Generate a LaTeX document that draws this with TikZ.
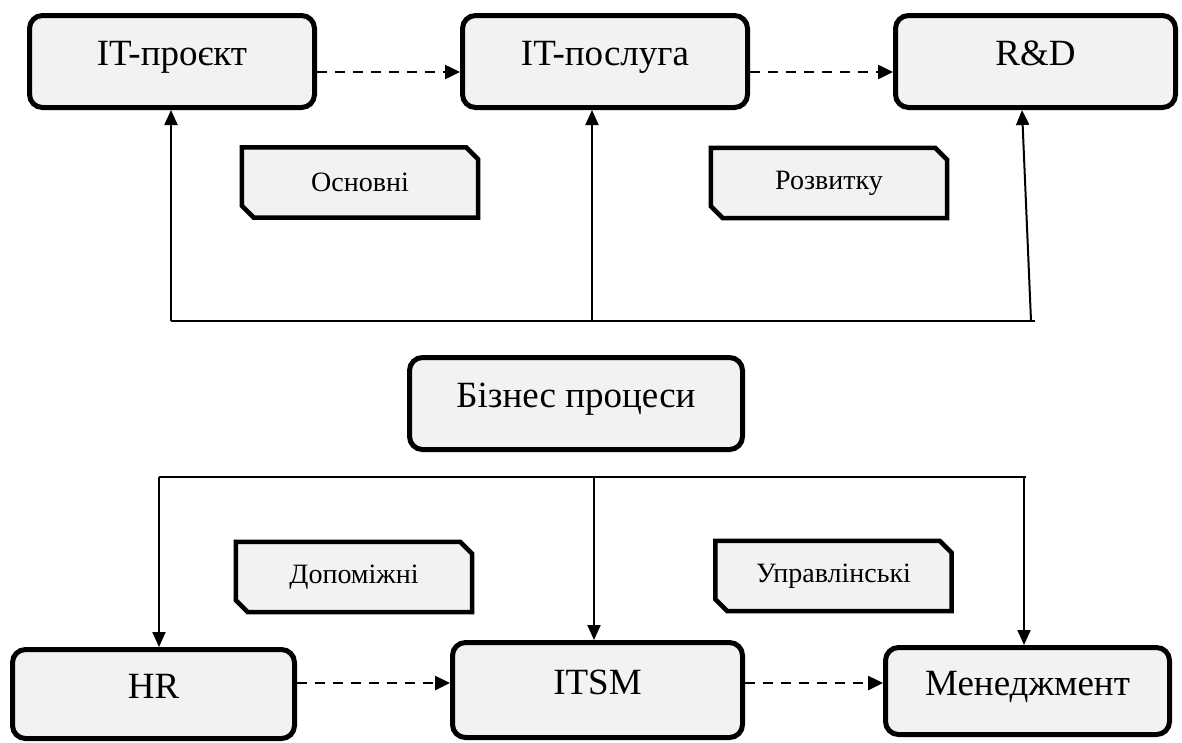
\documentclass[tikz,border=0pt]{standalone}
\usepackage{fontspec}
\setmainfont{Liberation Serif}
\usetikzlibrary{arrows.meta,backgrounds}
\definecolor{boxgray}{HTML}{F2F2F2}
\begin{document}
\begin{tikzpicture}[x=1pt,y=-1pt,
  proc/.style={draw=black, line width=5pt, rounded corners=13pt, fill=boxgray,
    inner sep=0pt, font=\fontsize{37}{44}\selectfont, text height=24pt, text depth=16pt},
  tagnode/.style={inner sep=0pt, font=\fontsize{28}{34}\selectfont,
    minimum width=236pt, minimum height=70pt},
  tagline/.style={draw=black, line width=4.5pt, fill=boxgray, line join=miter},
  bus/.style={line width=2pt},
  feed/.style={line width=2pt, -{Triangle[length=15pt,width=13pt]}},
  flow/.style={line width=2.5pt, dash pattern=on 10pt off 8pt, -{Triangle[length=15pt,width=14pt]}}]
\useasboundingbox (0,0) rectangle (1182,742);

% process boxes
\node[proc, minimum width=285pt, minimum height=92pt] (p1) at (172,61.5) {IT-проєкт};
\node[proc, minimum width=285pt, minimum height=92pt] (p2) at (605,61.5) {IT-послуга};
\node[proc, minimum width=280pt, minimum height=92pt] (p3) at (1035.5,61.5) {R\&D};
\node[proc, minimum width=333pt, minimum height=92pt] (bp) at (576,403.5) {Бізнес процеси};
\node[proc, minimum width=282pt, minimum height=89pt] (q1) at (153.5,694) {HR};
\node[proc, minimum width=290pt, minimum height=95pt] (q2) at (597.5,690) {ITSM};
\node[proc, minimum width=284pt, minimum height=87pt] (q3) at (1027.5,691) {Менеджмент};

% group tags
\node[tagnode] (t1) at (360,182.5) {Основні};
\node[tagnode] (t2) at (829,183) {Розвитку};
\node[tagnode] (t3) at (354,577) {Допоміжні};
\node[tagnode] (t4) at (833.5,576) {Управлінські};

\begin{scope}[on background layer]
  \foreach \t in {t1,t2,t3,t4}{
    \path[tagline] (\t.north west) -- ([xshift=-12pt]\t.north east)
      -- ([yshift=-12pt]\t.north east) -- (\t.south east)
      -- ([xshift=12pt]\t.south west) -- ([yshift=12pt]\t.south west) -- cycle;
  }
\end{scope}

% upper bus feeding the core processes
\coordinate (ua) at (171,321);
\coordinate (ub) at (592,321);
\coordinate (uc) at (1031,321);
\coordinate (ue) at (1035,321);
\coordinate (rtop) at (1022,0);
\draw[bus] (ua) -- (ue);
\draw[feed] (ua) -- (ua |- p1.south);
\draw[feed] (ub) -- (ub |- p2.south);
\draw[feed] (uc) -- (rtop |- p3.south);

% lower bus feeding the support processes
\coordinate (la) at (159,477);
\coordinate (lb) at (594,477);
\coordinate (lc) at (1024,477);
\coordinate (le) at (1026,477);
\draw[bus] (la) -- (le);
\draw[feed] (la) -- (la |- q1.north);
\draw[feed] (lb) -- (lb |- q2.north);
\draw[feed] (lc) -- (lc |- q3.north);

% sequence between processes
\draw[flow] (p1.east |- 0,72) -- (p2.west |- 0,72);
\draw[flow] (p2.east |- 0,72) -- (p3.west |- 0,72);
\draw[flow] (q1.east |- 0,683) -- (q2.west |- 0,683);
\draw[flow] (q2.east |- 0,683) -- (q3.west |- 0,683);
\end{tikzpicture}
\end{document}
